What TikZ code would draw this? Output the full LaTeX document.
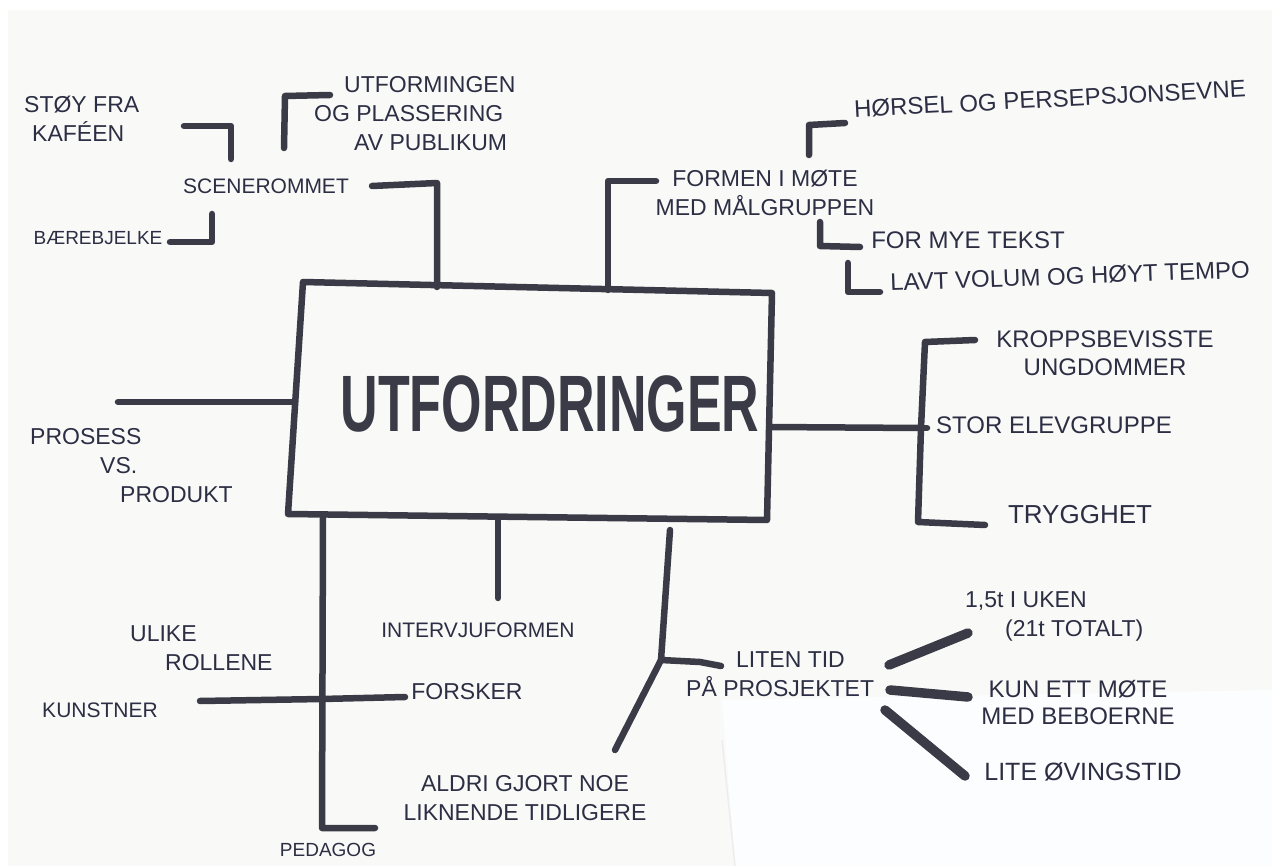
\documentclass[tikz,border=0pt]{standalone}
\usepackage{fontspec}
\setmainfont{Liberation Sans}
\usepackage{tikz}
\usetikzlibrary{calc}
\definecolor{ink}{HTML}{3A3B47}
\definecolor{pen}{HTML}{2C2E44}
\definecolor{paper}{HTML}{F9F9F7}
\definecolor{sheet}{HTML}{FCFDFE}
\def\penw{6.5pt}
\def\fatw{9.5pt}

\begin{document}
\begin{tikzpicture}[x=1pt, y=-1pt,
		marker/.style={draw=ink, line width=\penw, line cap=round, line join=round},
		fatmarker/.style={marker, line width=\fatw},
		lbl/.style={text=pen, font=\fontsize{23}{29}\selectfont, inner sep=0pt, align=center},
		smalllbl/.style={lbl, font=\fontsize{21}{28}\selectfont},
		biglbl/.style={lbl, font=\fontsize{26}{30}\selectfont},
		title/.style={text=ink, font=\fontsize{80}{80}\bfseries, inner sep=0pt}
	]
	% paper
	\fill[white] (0,0) rectangle (1272,866);
	\useasboundingbox (0,0) rectangle (1272,866);
	\fill[paper] (8,10) rectangle (1272,866);
	\fill[sheet] (722,700) -- (1272,690) -- (1272,866) -- (735,866) -- cycle;
	\draw[black!7, line width=1.5pt] (722,740) -- (735,866);

	% main box
	\coordinate (box-nw) at (303,282);
	\coordinate (box-ne) at (772,293);
	\coordinate (box-se) at (767,520);
	\coordinate (box-sw) at (288,514);
	\draw[marker] (box-nw) -- (box-ne) -- (box-se) -- (box-sw) -- cycle;
	\node[title] (main) at (550,404) {\scalebox{0.65}[1]{UTFORDRINGER}};

	% labels
	\node[smalllbl] (scn) at (266,186) {SCENEROMMET};
	\node[lbl, align=left, anchor=north west] (stoy) at (24,96) {STØY FRA\\\hspace{8pt}KAFÉEN};
	\node[lbl, align=left, anchor=north west] (utf) at (314,76) {\hspace{30pt}UTFORMINGEN\\OG PLASSERING\\\hspace{40pt}AV PUBLIKUM};
	\node[smalllbl, font=\fontsize{19}{24}\selectfont] (baere) at (98,238) {BÆREBJELKE};
	\node[lbl] (formen) at (765,193) {FORMEN I MØTE\\MED MÅLGRUPPEN};
	\node[biglbl, font=\fontsize{24}{30}\selectfont, rotate=3] (horsel) at (1050,99) {HØRSEL OG PERSEPSJONSEVNE};
	\node[biglbl, font=\fontsize{24}{30}\selectfont] (tekst) at (968,240) {FOR MYE TEKST};
	\node[biglbl, font=\fontsize{24}{30}\selectfont, rotate=2] (tempo) at (1070,276) {LAVT VOLUM OG HØYT TEMPO};
	\node[biglbl, font=\fontsize{24}{28}\selectfont] (kropp) at (1105,353) {KROPPSBEVISSTE\\UNGDOMMER};
	\node[biglbl, font=\fontsize{24}{30}\selectfont] (elev) at (1054,425) {STOR ELEVGRUPPE};
	\node[biglbl] (trygg) at (1080,515) {TRYGGHET};
	\node[lbl, align=left, anchor=north west] (prosess) at (30,428) {PROSESS\\\hspace{70pt}VS.\\\hspace{90pt}PRODUKT};
	\node[lbl, align=left, anchor=north west] (roller) at (130,625) {ULIKE\\\hspace{35pt}ROLLENE};
	\node[smalllbl] (kunst) at (100,710) {KUNSTNER};
	\node[lbl] (forsker) at (467,692) {FORSKER};
	\node[smalllbl, font=\fontsize{19}{24}\selectfont] (pedagog) at (328,850) {PEDAGOG};
	\node[smalllbl] (intervju) at (478,630) {INTERVJUFORMEN};
	\node[lbl, align=left, anchor=north west] (liten) at (686,651) {\hspace{50pt}LITEN TID\\PÅ PROSJEKTET};
	\node[lbl] (aldri) at (525,798) {ALDRI GJORT NOE\\LIKNENDE TIDLIGERE};
	\node[lbl, align=left, anchor=north west] (uken) at (965,591) {1,5t I UKEN\\\hspace{40pt}(21t TOTALT)};
	\node[biglbl, font=\fontsize{24}{27}\selectfont] (mote) at (1078,703) {KUN ETT MØTE\\MED BEBOERNE};
	\node[biglbl, font=\fontsize{25}{30}\selectfont] (oving) at (1083,772) {LITE ØVINGSTID};

	% connector ends
	\coordinate (top-a) at (437,287);
	\coordinate (top-b) at (608,290);
	\coordinate (right-a) at (769,427);
	\coordinate (left-a) at (295,402);
	\coordinate (bot-a) at (323,517);
	\coordinate (bot-b) at (498,519);

	% top left
	\draw[marker] (372,186) -- (437,183) -- (top-a);
	\draw[marker] (184,126) -- (231,126) -- (231,159);
	\draw[marker] (284,148) -- (285,96) -- (330,95);
	\draw[marker] (212,214) -- (212,242) -- (170,242);

	% top right
	\draw[marker] (top-b) -- (608,181) -- (656,181);
	\draw[marker] (809,155) -- (809,125) -- (845,123);
	\draw[marker] (820,222) -- (820,246) -- (860,247);
	\draw[marker] (848,263) -- (848,292) -- (880,292);

	% right
	\coordinate (brace-m) at (921,428);
	\draw[marker] (right-a) -- (brace-m);
	\draw[marker] (975,340) -- (925,342) -- (brace-m) -- (918,522) -- (985,525);
	\draw[marker] (brace-m) -- (927,428);

	% left
	\draw[marker] (118,402) -- (left-a);

	% bottom
	\draw[marker] (bot-a) -- (322,828) -- (375,828);
	\draw[marker] (200,701) -- (322,699) -- (405,697);
	\draw[marker] (bot-b) -- (498,598);
	\coordinate (fork) at (661,660);
	\draw[marker] (670,530) -- (fork) -- (700,662) -- (721,666);
	\draw[marker] (fork) -- (615,750);
	\draw[fatmarker] (889,665) -- (968,633);
	\draw[fatmarker] (890,690) -- (968,697);
	\draw[fatmarker] (885,710) -- (965,776);
\end{tikzpicture}
\end{document}
